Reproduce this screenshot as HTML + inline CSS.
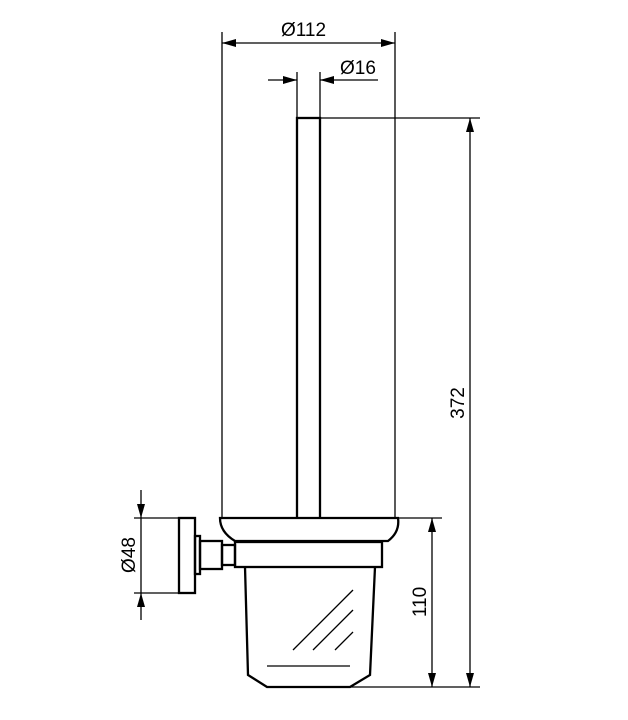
<!DOCTYPE html>
<html><head><style>body{margin:0;background:#fff}svg{display:block}</style></head><body>
<svg width="628" height="720" viewBox="0 0 628 720" xmlns="http://www.w3.org/2000/svg">
<defs>
<marker id="a" viewBox="0 0 14 8" refX="14" refY="4" markerWidth="14" markerHeight="8" orient="auto-start-reverse" markerUnits="userSpaceOnUse"><path d="M0,0L14,4L0,8z" fill="#000"/></marker>
</defs>
<g stroke="#000" fill="none" stroke-width="1.3">
<line x1="222" y1="32" x2="222" y2="518"/>
<line x1="395" y1="32" x2="395" y2="518"/>
<line x1="297" y1="72" x2="297" y2="118"/>
<line x1="320" y1="72" x2="320" y2="118"/>
<line x1="320" y1="118" x2="480" y2="118"/>
<line x1="398" y1="518" x2="442" y2="518"/>
<line x1="350" y1="687" x2="480" y2="687"/>
<line x1="134" y1="518" x2="182" y2="518"/>
<line x1="134" y1="593" x2="182" y2="593"/>
<line x1="222" y1="43" x2="395" y2="43" marker-start="url(#a)" marker-end="url(#a)"/>
<line x1="268" y1="80" x2="297" y2="80" marker-end="url(#a)"/>
<line x1="378" y1="80" x2="320" y2="80" marker-end="url(#a)"/>
<line x1="470" y1="118" x2="470" y2="687" marker-start="url(#a)" marker-end="url(#a)"/>
<line x1="432" y1="518" x2="432" y2="687" marker-start="url(#a)" marker-end="url(#a)"/>
<line x1="141" y1="490" x2="141" y2="518" marker-end="url(#a)"/>
<line x1="141" y1="620" x2="141" y2="593" marker-end="url(#a)"/>
<line x1="141" y1="518" x2="141" y2="593"/>
</g>
<g stroke="#000" fill="none" stroke-width="2.3">
<rect x="297" y="118" width="23" height="401"/>
<path d="M220,518 L398,518 Q400,532 388,541 L235,541 Q220,532 220,518 Z" fill="#fff"/>
<rect x="235" y="542" width="147" height="25" fill="#fff"/>
<path d="M245,567 L248,675 L267,687 L350,687 L370,675 L375,567"/>
<rect x="179" y="518" width="16" height="75"/>
<rect x="195" y="536" width="5" height="38"/>
<rect x="200" y="541" width="22" height="28"/>
<rect x="222" y="545" width="13" height="20"/>
</g>
<g stroke="#000" stroke-width="1.3">
<line x1="293" y1="650" x2="353" y2="590"/>
<line x1="313" y1="650" x2="353" y2="610"/>
<line x1="335" y1="650" x2="353" y2="632"/>
<line x1="267" y1="666" x2="350" y2="666"/>
</g>
<g font-family="Liberation Sans, sans-serif" font-size="19" fill="#000">
<text x="281" y="36">Ø112</text>
<text x="340" y="74">Ø16</text>
<text transform="translate(464,403) rotate(-90)" text-anchor="middle">372</text>
<text transform="translate(426,602) rotate(-90)" text-anchor="middle">110</text>
<text transform="translate(135,555) rotate(-90)" text-anchor="middle">Ø48</text>
</g>
</svg>
</body></html>
